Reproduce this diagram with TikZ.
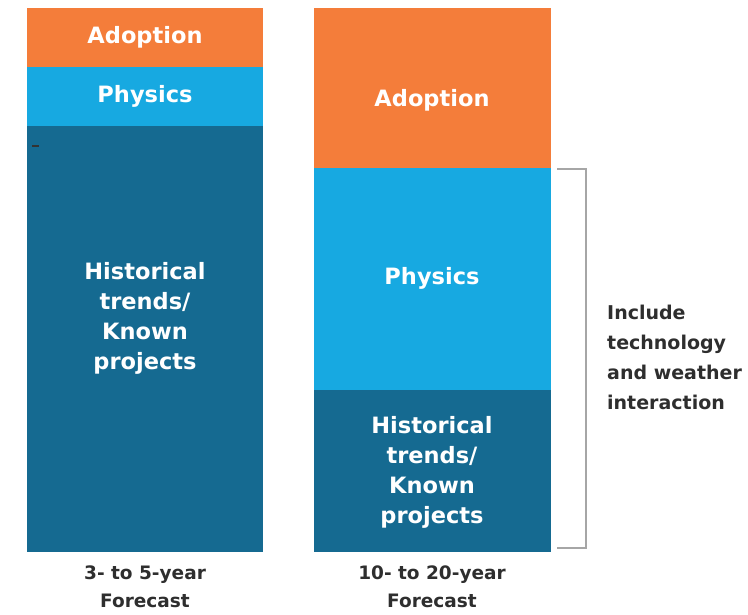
\documentclass[tikz,border=0pt]{standalone}
\usepackage{fontspec}
\setmainfont{DejaVu Sans}
\begin{document}
\begin{tikzpicture}[x=1pt,y=-1pt,
  seg/.style={draw=none,inner sep=0pt,text=white,font=\fontsize{22.5}{30}\selectfont\bfseries,align=center},
  caption/.style={text=black!82,font=\fontsize{18.5}{28}\selectfont\bfseries,align=center,inner sep=0pt},
  side/.style={text=black!82,font=\fontsize{19}{30}\selectfont\bfseries,align=left,inner sep=0pt,anchor=west},
  bracket/.style={draw=black!35,line width=1.3pt}]
\useasboundingbox (0,0) rectangle (748,614);
\definecolor{adopt}{HTML}{F47D3A}
\definecolor{phys}{HTML}{17A9E1}
\definecolor{hist}{HTML}{156A91}
% left column: 3- to 5-year
\fill[adopt] (27,8) rectangle (263,67);
\fill[phys] (27,67) rectangle (263,126);
\fill[hist] (27,126) rectangle (263,552);
\node[seg] (la) at (145,37) {Adoption};
\node[seg] (lp) at (145,96) {Physics};
\node[seg] (lh) at (145,318) {Historical\\trends/\\Known\\projects};
\draw[black!80,line width=1.2pt] (32,146) -- (39,146);
% right column: 10- to 20-year
\fill[adopt] (314,8) rectangle (551,168);
\fill[phys] (314,168) rectangle (551,390);
\fill[hist] (314,390) rectangle (551,552);
\node[seg] (ra) at (432,100) {Adoption};
\node[seg] (rp) at (432,278) {Physics};
\node[seg] (rh) at (432,472) {Historical\\trends/\\Known\\projects};
% bracket and its note
\coordinate (bt) at (557,169);
\coordinate (bb) at (557,548);
\draw[bracket] (bt) -- (586,169) -- (586,548) -- (bb);
\node[side] (note) at (607,357) {Include\\technology\\and weather\\interaction};
% captions
\node[caption] (lc) at (145,587) {3- to 5-year\\Forecast};
\node[caption] (rc) at (432,587) {10- to 20-year\\Forecast};
\end{tikzpicture}
\end{document}
